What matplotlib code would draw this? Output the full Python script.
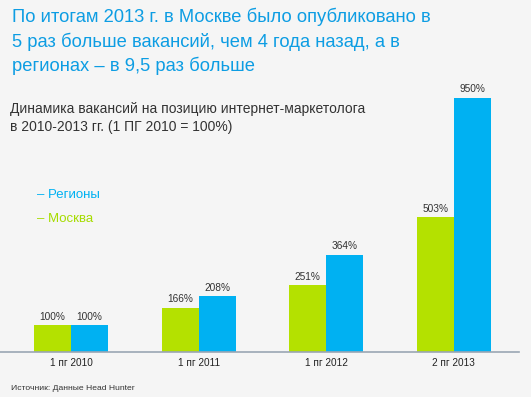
import numpy as np
import matplotlib.pyplot as plt

# data
periods = ['1 пг 2010', '1 пг 2011', '1 пг 2012', '2 пг 2013']
moscow = [100, 166, 251, 503]
regions = [100, 208, 364, 950]

bg = '#f5f5f5'
green = '#b4e100'
blue = '#00b1f2'
title_blue = '#0d9de3'

plt.rcParams['font.family'] = ['Liberation Sans', 'DejaVu Sans']

fig = plt.figure(figsize=(5.31, 3.97), dpi=100, facecolor=bg)
ax = fig.add_axes([0.0, 0.1134, 0.977, 0.685])
ax.set_facecolor(bg)

x = np.arange(len(periods))
w = 0.29
b1 = ax.bar(x - w/2, moscow, w, color=green)
b2 = ax.bar(x + w/2, regions, w, color=blue)
for bars, vals in ((b1, moscow), (b2, regions)):
    for r, v in zip(bars, vals):
        ax.text(r.get_x() + r.get_width()/2, v + 12, str(v) + '%',
                ha='center', va='bottom', fontsize=7.3, color='#333333')

ax.set_xlim(-0.557, 3.51)
ax.set_ylim(0, 1016)
ax.set_xticks(x)
ax.set_xticklabels(periods, fontsize=7.2, color='#222222')
ax.tick_params(axis='x', length=0, pad=4)
ax.set_yticks([])
for s in ('top', 'right', 'left'):
    ax.spines[s].set_visible(False)
ax.spines['bottom'].set_color('#9aa6b4')
ax.spines['bottom'].set_linewidth(1.2)

# title and captions
fig.text(12/531, 1 - 8/397,
         'По итогам 2013 г. в Москве было опубликовано в\n'
         '5 раз больше вакансий, чем 4 года назад, а в\n'
         'регионах – в 9,5 раз больше',
         ha='left', va='top', fontsize=13.2, color=title_blue, linespacing=1.42)
fig.text(10/531, 1 - 102/397,
         'Динамика вакансий на позицию интернет-маркетолога\n'
         'в 2010-2013 гг. (1 ПГ 2010 = 100%)',
         ha='left', va='top', fontsize=10, color='#333333', linespacing=1.35)
fig.text(37/531, 1 - 195/397, '– Регионы', ha='left', va='center',
         fontsize=9.5, color=blue)
fig.text(37/531, 1 - 219/397, '– Москва', ha='left', va='center',
         fontsize=9.5, color='#a6dc00')
fig.text(11/531, 1 - 388/397, 'Источник: Данные Head Hunter', ha='left',
         va='center', fontsize=6.1, color='#333333')

fig.savefig('out.png', dpi=100, facecolor=bg)
